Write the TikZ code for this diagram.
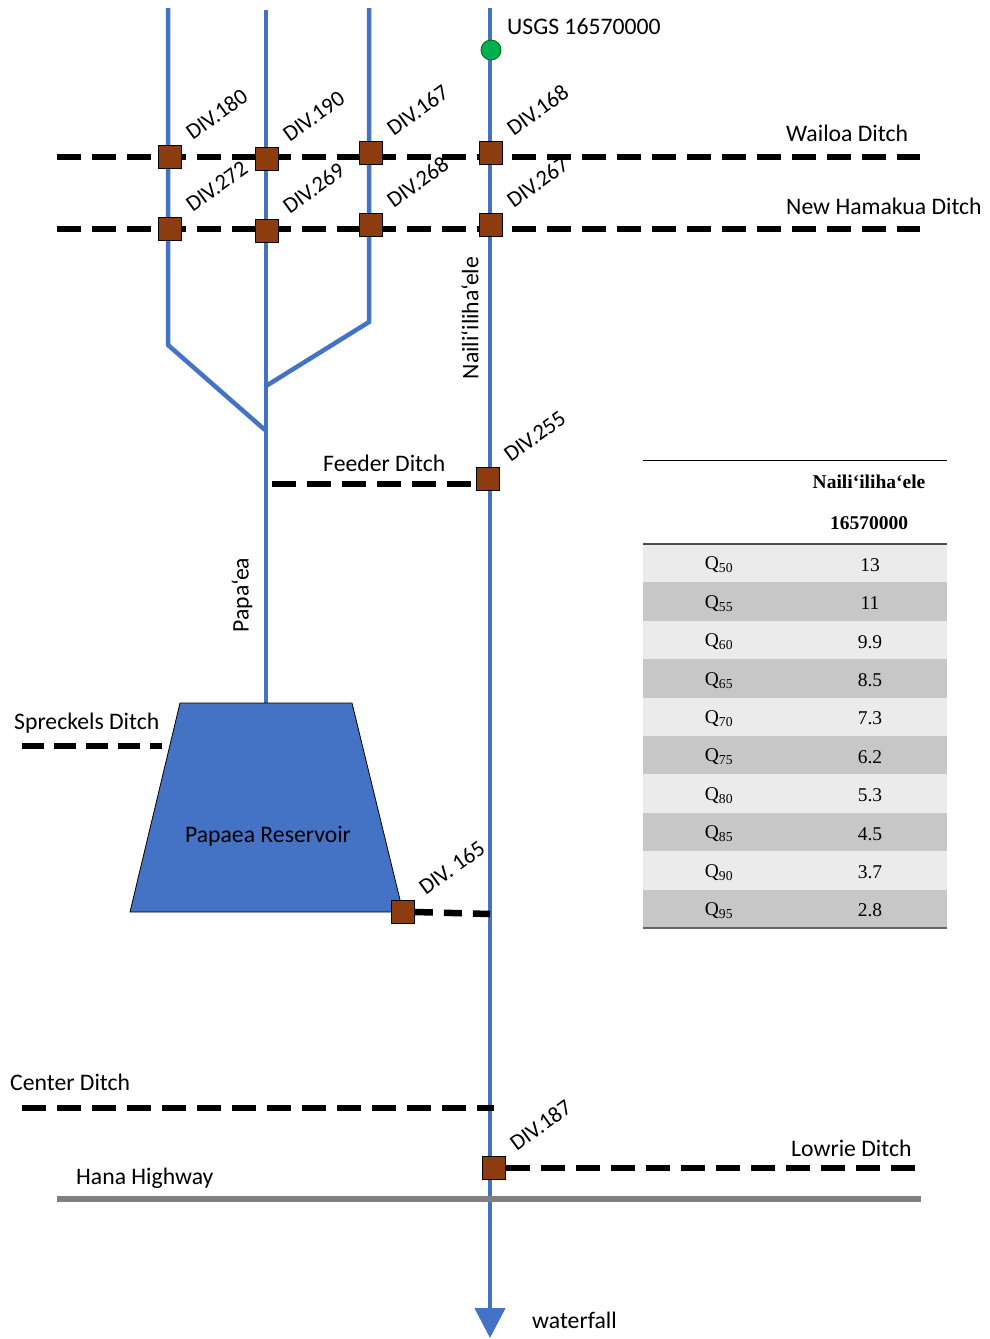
\documentclass[tikz,border=0pt]{standalone}
\usepackage{fontspec}
\setmainfont{Carlito}
\newfontfamily\tabfont{Liberation Serif}
\usetikzlibrary{arrows.meta}
\definecolor{riv}{RGB}{68,114,196}
\definecolor{divc}{RGB}{140,60,15}
\definecolor{gpt}{RGB}{0,176,80}
\begin{document}
\begin{tikzpicture}[x=1pt,y=-1pt,
  river/.style={riv,line width=4.5pt},
  ditch/.style={black,line width=6.5pt,dash pattern=on 24pt off 11pt},
  divbox/.style={draw=black,fill=divc,line width=0.8pt,minimum size=23pt,inner sep=0pt},
  divlab/.style={rotate=36,anchor=south west,inner sep=0pt,font=\fontsize{22.5}{24}\selectfont},
  lab/.style={font=\fontsize{23.7}{25}\selectfont,inner sep=0pt},
  tab/.style={font=\tabfont\fontsize{19.5}{21}\selectfont,inner sep=0pt},
  tabb/.style={font=\tabfont\bfseries\fontsize{19.5}{21}\selectfont,inner sep=0pt}]
\useasboundingbox (0,0) rectangle (990,1339);

% rivers
\coordinate (t1top) at (168,8);
\coordinate (t1bend) at (168,345);
\coordinate (join) at (265,430);
\coordinate (t2top) at (266,10);
\coordinate (papbot) at (266,703);
\coordinate (t3top) at (369,8);
\coordinate (t3bend) at (369,322);
\coordinate (t3join) at (266,386);
\coordinate (mtop) at (490,8);
\coordinate (mbot) at (490,1338);
\draw[river] (t1top) -- (t1bend) -- (join);
\draw[river] (t3top) -- (t3bend) -- (t3join);
\draw[river] (t2top) -- (papbot);
\draw[river,-{Triangle[length=30pt,width=30pt]}] (mtop) -- (mbot);

% reservoir
\coordinate (r1) at (180,703);
\coordinate (r2) at (352,703);
\coordinate (r3) at (403,912);
\coordinate (r4) at (130,912);
\draw[fill=riv,line width=0.8pt] (r1) -- (r2) -- (r3) -- (r4) -- cycle;
\node[lab] (res) at (268,836) {Papaea Reservoir};

% ditches
\coordinate (wl) at (57,157);  \coordinate (wr) at (920,157);
\coordinate (hl) at (57,229);  \coordinate (hr) at (920,229);
\coordinate (fl) at (272,484); \coordinate (fr) at (477,484);
\coordinate (sl) at (22,746);  \coordinate (sr) at (162,746);
\coordinate (dr) at (490,914);
\coordinate (cl) at (22,1108); \coordinate (cr) at (494,1108);
\coordinate (lr) at (925,1168);
\coordinate (hwl) at (57,1199); \coordinate (hwr) at (921,1199);
\draw[ditch] (wl) -- (wr);
\draw[ditch] (hl) -- (hr);
\draw[ditch] (fl) -- (fr);
\draw[ditch,dash pattern=on 22pt off 10pt] (sl) -- (sr);
\draw[ditch] (cl) -- (cr);
\draw[gray,line width=6pt] (hwl) -- (hwr);

% USGS gauge
\node[circle,fill=gpt,draw=green!40!black,minimum size=20pt,inner sep=0pt,line width=0.8pt] (usgs) at (491,50) {};

% diversions
\node[divbox] (d180) at (170,157) {};
\node[divbox] (d190) at (267,159) {};
\node[divbox] (d167) at (371,153) {};
\node[divbox] (d168) at (491,153) {};
\node[divbox] (d272) at (170,229) {};
\node[divbox] (d269) at (267,231) {};
\node[divbox] (d268) at (371,225) {};
\node[divbox] (d267) at (491,225) {};
\node[divbox] (d255) at (488,479) {};
\node[divbox] (d165) at (403,912) {};
\node[divbox] (d187) at (494,1168) {};
\draw[ditch,dash pattern=on 18pt off 11pt] (d165.east) -- (dr);
\draw[ditch] (d187.east) -- (lr);

\node[divlab] (l180) at ([shift={(11,-4)}]d180.north east) {DIV.180};
\node[divlab] (l190) at ([shift={(11,-4)}]d190.north east) {DIV.190};
\node[divlab] (l167) at ([shift={(11,-4)}]d167.north east) {DIV.167};
\node[divlab] (l168) at ([shift={(11,-4)}]d168.north east) {DIV.168};
\node[divlab] (l272) at ([shift={(11,-4)}]d272.north east) {DIV.272};
\node[divlab] (l269) at ([shift={(11,-4)}]d269.north east) {DIV.269};
\node[divlab] (l268) at ([shift={(11,-4)}]d268.north east) {DIV.268};
\node[divlab] (l267) at ([shift={(11,-4)}]d267.north east) {DIV.267};
\node[divlab] (l255) at ([shift={(11,-4)}]d255.north east) {DIV.255};
\node[divlab] (l165) at ([shift={(11,-4)}]d165.north east) {DIV. 165};
\node[divlab] (l187) at ([shift={(11,-4)}]d187.north east) {DIV.187};

% labels
\node[lab,anchor=west] (tusgs) at (507,27) {USGS 16570000};
\node[lab,anchor=west] (twai) at (786,133) {Wailoa Ditch};
\node[lab,anchor=west] (tham) at (786,206) {New Hamakua Ditch};
\node[lab,rotate=90] (tnai) at (470,318) {Naili‘iliha‘ele};
\node[lab,anchor=west] (tfee) at (323,463) {Feeder Ditch};
\node[lab,rotate=90] (tpap) at (242,595) {Papa‘ea};
\node[lab,anchor=west] (tspr) at (14,723) {Spreckels Ditch};
\node[lab,anchor=west] (tcen) at (10,1082) {Center Ditch};
\node[lab,anchor=west] (tlow) at (791,1148) {Lowrie Ditch};
\node[lab,anchor=west] (thana) at (76,1178) {Hana Highway};
\node[lab,anchor=west] (twat) at (532,1320) {waterfall};

% table
\foreach \i in {0,2,4,6,8} {
  \fill[black!8] (643,{544+38.4*\i}) rectangle (947,{544+38.4*(\i+1)});
}
\foreach \i in {1,3,5,7,9} {
  \fill[black!22] (643,{544+38.4*\i}) rectangle (947,{544+38.4*(\i+1)});
}
\draw[line width=1pt] (643,460) -- (947,460);
\draw[line width=2pt,black!70] (643,544) -- (947,544);
\draw[line width=2pt,black!60] (643,928) -- (947,928);
\node[tabb] (th1) at (869,482) {Naili‘iliha‘ele};
\node[tabb] (th2) at (869,523) {16570000};
\foreach \q/\v [count=\i from 0] in {50/13,55/11,60/9.9,65/8.5,70/7.3,75/6.2,80/5.3,85/4.5,90/3.7,95/2.8} {
  \node[tab] (q\i) at (719,{565+38.4*\i}) {Q\textsubscript{\q}};
  \node[tab] (v\i) at (870,{565+38.4*\i}) {\v};
}
\end{tikzpicture}
\end{document}
